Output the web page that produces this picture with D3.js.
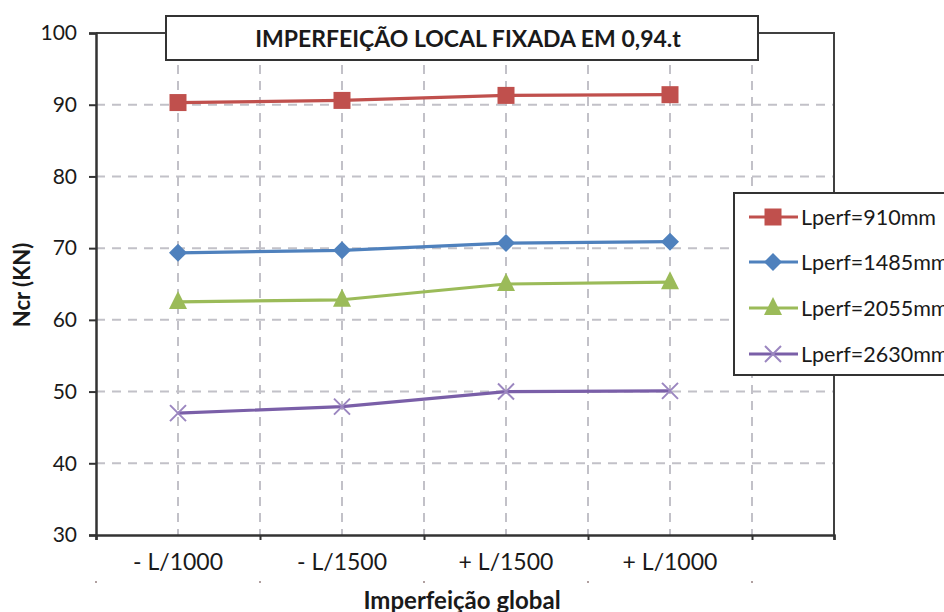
<!DOCTYPE html>
<html><head><meta charset="utf-8">
<script src="https://cdn.jsdelivr.net/npm/d3@7"></script>
<style>body{margin:0;background:#fff}svg{display:block}text{font-family:Lato,"Open Sans",sans-serif;fill:#1a1a1a}</style>
</head><body>
<script>
const categories = ["- L/1000", "- L/1500", "+ L/1500", "+ L/1000"];
const seriesNames = ["Lperf=910mm", "Lperf=1485mm", "Lperf=2055mm", "Lperf=2630mm"];
const s910 = [90.3, 90.6, 91.3, 91.4];
const s1485 = [69.35, 69.7, 70.7, 70.9];
const s2055 = [62.5, 62.8, 65.0, 65.25];
const s2630 = [47.0, 47.9, 50.0, 50.1];
const yTicks = [30, 40, 50, 60, 70, 80, 90, 100];
const titleText = "IMPERFEIÇÃO LOCAL FIXADA EM 0,94.t";
const xTitle = "Imperfeição global";
const yTitle = "Ncr (KN)";

const series = [
  {name: seriesNames[0], values: s910, color: "#C0504D", line: "#C0504D", marker: "square"},
  {name: seriesNames[1], values: s1485, color: "#4F81BD", line: "#4F81BD", marker: "diamond"},
  {name: seriesNames[2], values: s2055, color: "#9BBB59", line: "#9BBB59", marker: "triangle"},
  {name: seriesNames[3], values: s2630, color: "#9B86C0", line: "#7A5FA8", marker: "x"}
];

const W = 944, H = 612;
const svg = d3.select("body").append("svg").attr("width", W).attr("height", H);

const x = d3.scaleLinear().domain([-0.5, 4]).range([96, 834]);
const y = d3.scaleLinear().domain([30, 100]).range([535, 33]);

const gridCol = "#c2c1c8";
const g = svg.append("g");
const vGrid = d3.range(0, 4, 0.5);
g.selectAll(".vg").data(vGrid).join("line")
  .attr("x1", d => x(d)).attr("x2", d => x(d)).attr("y1", y(100)).attr("y2", y(30))
  .attr("stroke", gridCol).attr("stroke-width", 2).attr("stroke-dasharray", "9,7");
g.selectAll(".hg").data(yTicks.filter(t => t > 30 && t < 100)).join("line")
  .attr("x1", x(-0.5)).attr("x2", x(4)).attr("y1", d => y(d)).attr("y2", d => y(d))
  .attr("stroke", gridCol).attr("stroke-width", 2).attr("stroke-dasharray", "9,7");

svg.append("path").attr("d", `M${x(-0.5)},${y(100)}H${x(4)}V${y(30)}`)
  .attr("fill", "none").attr("stroke", "#404040").attr("stroke-width", 2);

const yAxis = svg.append("g").attr("transform", `translate(${x(-0.5)},0)`)
  .call(d3.axisLeft(y).tickValues(yTicks).tickSize(7).tickPadding(12));
yAxis.select(".domain").attr("stroke", "#333").attr("stroke-width", 2.5);
yAxis.selectAll(".tick line").attr("stroke", "#333").attr("stroke-width", 2);
yAxis.selectAll(".tick text").style("font-size", "21px").attr("fill", "#222");

const xAxis = svg.append("g").attr("transform", `translate(0,${y(30)})`)
  .call(d3.axisBottom(x).tickValues([-0.5, 0.5, 1.5, 2.5, 3.5, 4]).tickSize(5).tickFormat(""));
xAxis.select(".domain").attr("stroke", "#333").attr("stroke-width", 2.5);
xAxis.selectAll(".tick line").attr("stroke", "#333").attr("stroke-width", 2);

svg.append("g").selectAll("text").data(categories).join("text")
  .attr("x", (d, i) => x(i)).attr("y", 570).attr("text-anchor", "middle")
  .style("font-size", "23px").text(d => d);

svg.append("g").selectAll("rect").data([-0.5, 0.5, 1.5, 2.5, 3.5]).join("rect")
  .attr("x", d => x(d) - 1).attr("y", 581).attr("width", 2).attr("height", 2).attr("fill", "#b0a0a0");

svg.append("text").attr("x", 462).attr("y", 609).attr("text-anchor", "middle")
  .style("font-size", "24px").style("font-weight", "bold").text(xTitle);
svg.append("text").attr("transform", "translate(30,285) rotate(-90)").attr("text-anchor", "middle")
  .style("font-size", "22px").style("font-weight", "bold").text(yTitle);

function drawMarker(sel, type, color, cx, cy) {
  if (type === "square") {
    sel.append("rect").attr("x", cx - 8.5).attr("y", cy - 8.5).attr("width", 17).attr("height", 17).attr("fill", color);
  } else if (type === "diamond") {
    sel.append("path").attr("d", `M${cx},${cy-9}L${cx+9},${cy}L${cx},${cy+9}L${cx-9},${cy}Z`).attr("fill", color);
  } else if (type === "triangle") {
    sel.append("path").attr("d", `M${cx},${cy-11}L${cx+9},${cy+7}L${cx-9},${cy+7}Z`).attr("fill", color);
  } else if (type === "x") {
    sel.append("path").attr("d", `M${cx-8},${cy-8}L${cx+8},${cy+8}M${cx-8},${cy+8}L${cx+8},${cy-8}`)
      .attr("stroke", color).attr("stroke-width", 2).attr("fill", "none");
  }
}

const line = d3.line().x((d, i) => x(i)).y(d => y(d));
series.forEach(s => {
  svg.append("path").datum(s.values).attr("d", line).attr("fill", "none")
    .attr("stroke", s.line).attr("stroke-width", 3.2).attr("stroke-linejoin", "round");
  const mg = svg.append("g");
  s.values.forEach((v, i) => drawMarker(mg, s.marker, s.color, x(i), y(v)));
});

svg.append("rect").attr("x", 166).attr("y", 16).attr("width", 592).attr("height", 44)
  .attr("fill", "#fff").attr("stroke", "#333").attr("stroke-width", 2);
svg.append("text").attr("x", 468).attr("y", 47).attr("text-anchor", "middle")
  .style("font-size", "23px").style("font-weight", "bold").text(titleText);

const lg = svg.append("g");
lg.append("rect").attr("x", 734).attr("y", 193).attr("width", 230).attr("height", 182)
  .attr("fill", "#fff").attr("stroke", "#333").attr("stroke-width", 2);
const legY = [217, 262, 308, 354];
series.forEach((s, i) => {
  lg.append("line").attr("x1", 749).attr("x2", 798).attr("y1", legY[i]).attr("y2", legY[i])
    .attr("stroke", s.line).attr("stroke-width", 3.2);
  drawMarker(lg, s.marker, s.color, 773, legY[i]);
  lg.append("text").attr("x", 801).attr("y", legY[i] + 8).style("font-size", "21.5px").text(s.name);
});
</script>
</body></html>
